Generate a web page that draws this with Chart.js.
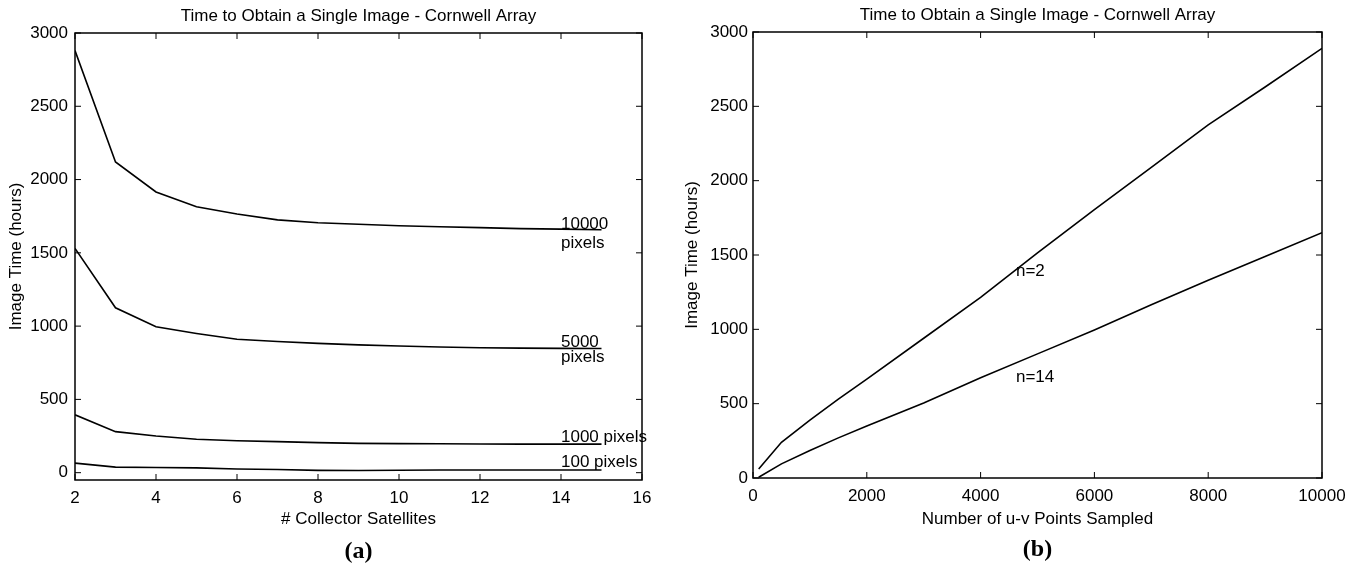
<!DOCTYPE html>
<html>
<head>
<meta charset="utf-8">
<script src="https://cdn.jsdelivr.net/npm/chart.js@4.4.0/dist/chart.umd.min.js"></script>
<style>
  html, body { margin: 0; padding: 0; background: #fff; }
  canvas { position: absolute; top: 0; }
  #chartA { left: 0; }
  #chartB { left: 678px; }
</style>
</head>
<body>
<canvas id="chartA" width="678" height="569"></canvas>
<canvas id="chartB" width="678" height="569"></canvas>
<script>
// (a) image time vs number of collector satellites
const satellites = [2, 3, 4, 5, 6, 7, 8, 9, 10, 11, 12, 13, 14, 15];
const px10000 = [2880, 2120, 1915, 1815, 1765, 1725, 1705, 1695, 1685, 1678, 1672, 1665, 1662, 1658];
const px5000  = [1530, 1125, 995, 950, 910, 895, 882, 872, 864, 857, 852, 850, 848, 847];
const px1000  = [395, 280, 250, 228, 218, 212, 205, 200, 198, 197, 196, 195, 195, 195];
const px100   = [65, 38, 35, 33, 25, 22, 16, 15, 17, 18, 18, 18, 18, 18];
const xTicksA = [2, 4, 6, 8, 10, 12, 14, 16];

// (b) image time vs number of u-v points sampled
const uvPoints = [100, 500, 1000, 1500, 2000, 3000, 4000, 5000, 6000, 7000, 8000, 9000, 10000];
const n2  = [60, 240, 390, 530, 665, 940, 1215, 1515, 1805, 2090, 2375, 2630, 2890];
const n14 = [5, 95, 185, 270, 350, 505, 675, 835, 995, 1165, 1330, 1490, 1650];
const xTicksB = [0, 2000, 4000, 6000, 8000, 10000];

// shared y ticks
const yTicks = [0, 500, 1000, 1500, 2000, 2500, 3000];

// text labels next to the curves (data coordinates)
const notesA = [
    { text: '10000', x: 14, y: 1695 },
    { text: 'pixels', x: 14, y: 1565 },
    { text: '5000', x: 14, y: 888 },
    { text: 'pixels', x: 14, y: 786 },
    { text: '1000 pixels', x: 14, y: 239 },
    { text: '100 pixels', x: 14, y: 68 }
];
const notesB = [
    { text: 'n=2', x: 4622, y: 1392 },
    { text: 'n=14', x: 4622, y: 679 }
];

const TITLE = 'Time to Obtain a Single Image - Cornwell Array';
const FONT = '"Liberation Sans", Arial, sans-serif';

Chart.defaults.font.family = FONT;
Chart.defaults.font.size = 17;
Chart.defaults.color = '#000';

// box round the plot, inward tick marks, title, panel tag, curve labels
const framePlugin = {
    id: 'frame',
    afterDraw(chart, args, opts) {
        const { ctx, chartArea: a, scales: { x, y } } = chart;
        ctx.save();
        ctx.strokeStyle = '#000';
        ctx.lineWidth = 1.5;
        ctx.strokeRect(a.left, a.top, a.right - a.left, a.bottom - a.top);

        ctx.lineWidth = 1;
        const len = 6;
        ctx.beginPath();
        x.ticks.forEach(t => {
            const p = x.getPixelForValue(t.value);
            ctx.moveTo(p, a.bottom); ctx.lineTo(p, a.bottom - len);
            ctx.moveTo(p, a.top); ctx.lineTo(p, a.top + len);
        });
        y.ticks.forEach(t => {
            const p = y.getPixelForValue(t.value);
            ctx.moveTo(a.left, p); ctx.lineTo(a.left + len, p);
            ctx.moveTo(a.right, p); ctx.lineTo(a.right - len, p);
        });
        ctx.stroke();

        const cx = (a.left + a.right) / 2;
        ctx.fillStyle = '#000';
        ctx.textAlign = 'center';
        ctx.textBaseline = 'middle';
        ctx.font = '17px ' + FONT;
        ctx.fillText(opts.title, cx, a.top - 17);

        ctx.font = 'bold 24px "Liberation Serif", serif';
        ctx.fillText(opts.tag, cx, a.bottom + 72);

        ctx.font = '17px ' + FONT;
        ctx.textAlign = 'left';
        opts.notes.forEach(n => {
            ctx.fillText(n.text, x.getPixelForValue(n.x), y.getPixelForValue(n.y));
        });
        ctx.restore();
    }
};

function series(xs, ys) {
    return {
        data: xs.map((v, i) => ({ x: v, y: ys[i] })),
        borderColor: '#000',
        borderWidth: 1.6,
        pointRadius: 0,
        fill: false,
        tension: 0
    };
}

function fixedTicks(values) {
    return s => { s.ticks = values.map(v => ({ value: v })); };
}

function makeChart(id, c) {
    return new Chart(document.getElementById(id), {
        type: 'line',
        data: { datasets: c.datasets },
        options: {
            responsive: false,
            animation: false,
            layout: { padding: { top: c.top, left: 0, right: c.right, bottom: c.bottom } },
            scales: {
                x: {
                    type: 'linear',
                    min: c.xMin, max: c.xMax,
                    grid: { display: false, drawTicks: false },
                    border: { display: false },
                    afterBuildTicks: fixedTicks(c.xTicks),
                    ticks: { padding: 8, maxRotation: 0, autoSkip: false, callback: v => String(v) },
                    title: { display: true, text: c.xTitle, padding: { top: 0, bottom: c.xTitlePad } },
                    afterFit: s => { s.height = 60; }
                },
                y: {
                    min: c.yMin, max: 3000,
                    grid: { display: false, drawTicks: false },
                    border: { display: false },
                    afterBuildTicks: fixedTicks(yTicks),
                    ticks: { padding: c.yTickPad, autoSkip: false, callback: v => String(v) },
                    title: { display: true, text: 'Image Time (hours)', padding: { top: c.yTitlePad, bottom: 0 } },
                    afterFit: s => { s.width = 75; }
                }
            },
            plugins: {
                legend: { display: false },
                tooltip: { enabled: false },
                frame: { title: TITLE, tag: c.tag, notes: c.notes }
            }
        },
        plugins: [framePlugin]
    });
}

makeChart('chartA', {
    datasets: [
        series(satellites, px10000),
        series(satellites, px5000),
        series(satellites, px1000),
        series(satellites, px100)
    ],
    top: 33, right: 36, bottom: 29,
    xMin: 2, xMax: 16, xTicks: xTicksA, yMin: -50,
    xTitle: '# Collector Satellites', xTitlePad: 10,
    yTickPad: 7, yTitlePad: 6,
    tag: '(a)', notes: notesA
});

makeChart('chartB', {
    datasets: [
        series(uvPoints, n2),
        series(uvPoints, n14)
    ],
    top: 32, right: 34, bottom: 31,
    xMin: 0, xMax: 10000, xTicks: xTicksB, yMin: 0,
    xTitle: 'Number of u-v Points Sampled', xTitlePad: 8,
    yTickPad: 5, yTitlePad: 4,
    tag: '(b)', notes: notesB
});
</script>
</body>
</html>
